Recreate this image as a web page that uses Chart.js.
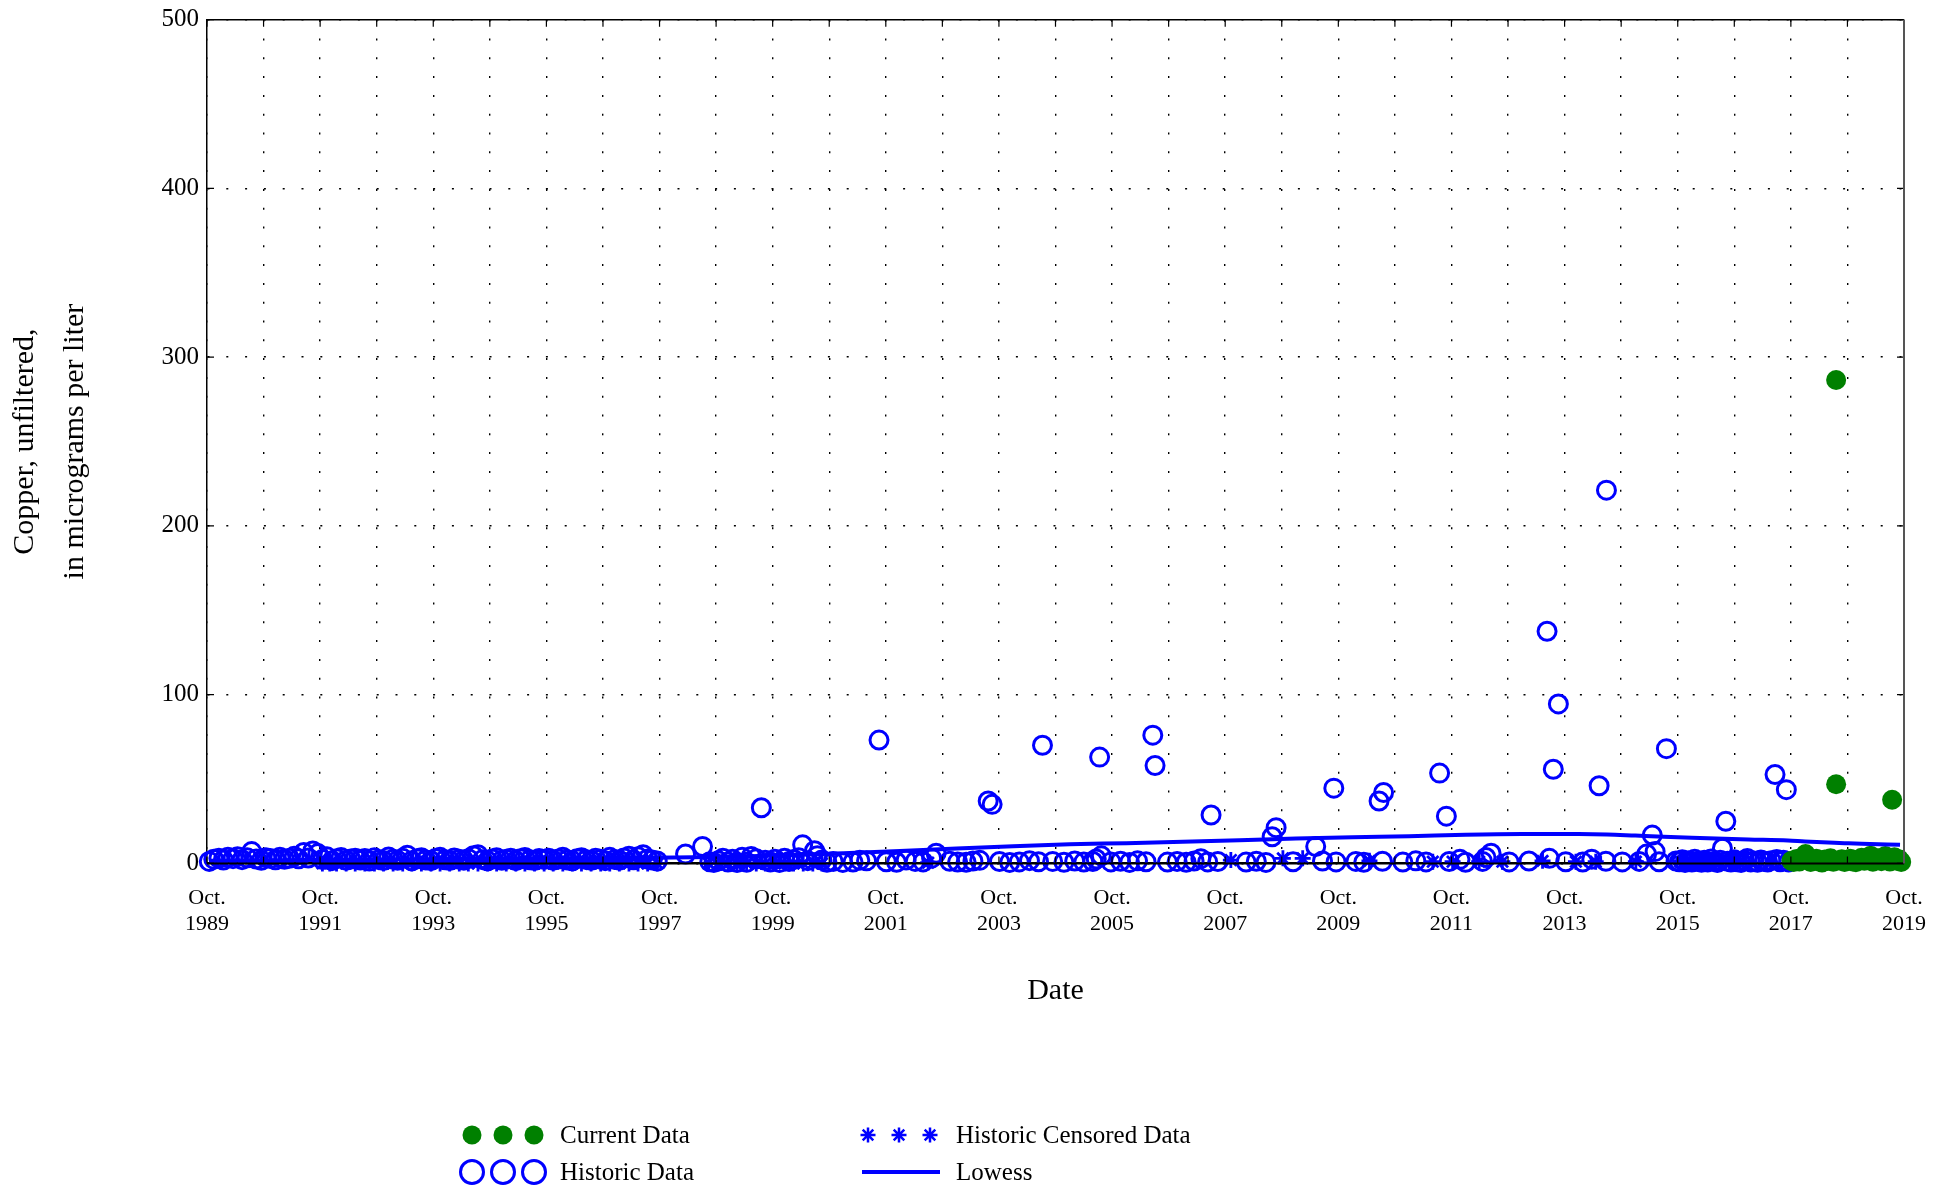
<!DOCTYPE html>
<html>
<head>
<meta charset="utf-8">
<title>Copper, unfiltered</title>
<script src="https://cdn.jsdelivr.net/npm/chart.js@4.4.1/dist/chart.umd.min.js"></script>
<style>
  html, body { margin: 0; padding: 0; background: #ffffff; }
  canvas { display: block; }
</style>
</head>
<body>
<canvas id="chart" width="1934" height="1188"></canvas>
<script>
// Axis ticks and labels
const yTicks = [0, 100, 200, 300, 400, 500];
const xTickYears = [1989, 1991, 1993, 1995, 1997, 1999, 2001, 2003, 2005, 2007, 2009, 2011, 2013, 2015, 2017, 2019];
const legendLabels = ['Current Data', 'Historic Data', 'Historic Censored Data', 'Lowess'];

// Samples as [decimal year, copper in micrograms per liter]
const historicData = [
  [1989.79, 1.2], [1989.87, 2.5], [1989.96, 3.1], [1990.04, 2.0], [1990.12, 3.6], [1990.21, 2.8],
  [1990.29, 4.0], [1990.37, 2.2], [1990.46, 3.3], [1990.54, 7.0], [1990.62, 2.6], [1990.71, 1.8],
  [1990.79, 3.4], [1990.87, 2.9], [1990.96, 2.1], [1991.04, 3.7], [1991.12, 2.4], [1991.21, 3.0],
  [1991.29, 4.2], [1991.37, 2.7], [1991.46, 6.5], [1991.54, 3.2], [1991.62, 7.4], [1991.71, 5.8],
  [1991.79, 2.3], [1991.87, 3.9], [1991.96, 1.6], [1992.04, 2.8], [1992.12, 3.5], [1992.21, 1.9],
  [1992.29, 2.6], [1992.37, 3.1], [1992.46, 2.0], [1992.54, 2.9], [1992.62, 1.4], [1992.71, 3.3],
  [1992.79, 2.2], [1992.87, 1.7], [1992.96, 3.8], [1993.04, 2.5], [1993.12, 1.8], [1993.21, 3.0],
  [1993.29, 4.9], [1993.37, 1.5], [1993.46, 2.7], [1993.54, 3.4], [1993.62, 2.0], [1993.71, 1.6],
  [1993.79, 2.9], [1993.87, 3.6], [1993.96, 2.1], [1994.04, 1.7], [1994.12, 3.2], [1994.21, 2.4],
  [1994.29, 1.9], [1994.37, 2.8], [1994.46, 4.6], [1994.54, 5.2], [1994.62, 2.2], [1994.71, 1.5],
  [1994.79, 2.6], [1994.87, 3.3], [1994.96, 1.8], [1995.04, 2.4], [1995.12, 3.0], [1995.21, 1.6],
  [1995.29, 2.7], [1995.37, 3.5], [1995.46, 2.1], [1995.54, 1.7], [1995.62, 2.9], [1995.71, 2.3],
  [1995.79, 3.1], [1995.87, 1.9], [1995.96, 2.6], [1996.04, 3.7], [1996.12, 2.0], [1996.21, 1.5],
  [1996.29, 2.8], [1996.37, 3.4], [1996.46, 2.2], [1996.54, 1.8], [1996.62, 3.0], [1996.71, 2.5],
  [1996.79, 1.6], [1996.87, 3.6], [1996.96, 2.3], [1997.04, 1.9], [1997.12, 3.2], [1997.21, 4.2],
  [1997.29, 2.1], [1997.37, 3.9], [1997.46, 5.1], [1997.54, 2.6], [1997.62, 2.0], [1997.71, 1.4],
  [1998.21, 5.6], [1998.51, 10.0],
  [1998.64, 1.0], [1998.71, 0.6], [1998.79, 1.5], [1998.87, 3.1], [1998.96, 0.8], [1999.04, 2.4],
  [1999.12, 0.5], [1999.21, 3.6], [1999.29, 0.7], [1999.37, 4.1], [1999.46, 2.7], [1999.55, 33.0],
  [1999.62, 1.8], [1999.71, 0.9], [1999.79, 2.5], [1999.87, 0.6], [1999.96, 3.0], [2000.04, 1.1],
  [2000.12, 2.3], [2000.21, 3.4], [2000.28, 11.0], [2000.37, 1.6], [2000.49, 7.5], [2000.54, 4.6],
  [2000.62, 2.0], [2000.71, 0.7],
  [2000.82, 1.2], [2000.99, 0.6], [2001.17, 0.8], [2001.29, 1.9], [2001.41, 1.5], [2001.63, 73.1],
  [2001.76, 1.0], [2001.94, 0.7], [2002.11, 2.0], [2002.27, 1.2], [2002.41, 0.9], [2002.56, 3.1],
  [2002.64, 6.0], [2002.88, 1.3], [2003.02, 0.8], [2003.17, 0.7], [2003.29, 1.4], [2003.41, 1.8],
  [2003.56, 37.0], [2003.63, 35.0], [2003.76, 1.1], [2003.94, 0.6], [2004.11, 0.9], [2004.29, 1.6],
  [2004.45, 1.0], [2004.52, 70.0], [2004.70, 1.2], [2004.90, 0.7], [2005.09, 1.4], [2005.25, 0.8],
  [2005.41, 1.1], [2005.47, 2.6], [2005.53, 63.0], [2005.56, 4.5], [2005.73, 0.9], [2005.90, 1.3],
  [2006.06, 0.6], [2006.20, 1.5], [2006.35, 1.0], [2006.47, 76.0], [2006.51, 58.0], [2006.73, 0.8],
  [2006.90, 1.2], [2007.06, 0.7], [2007.20, 1.4], [2007.32, 2.8], [2007.44, 0.9], [2007.50, 28.7],
  [2007.62, 1.1], [2008.12, 0.8], [2008.30, 1.3], [2008.47, 0.6], [2008.58, 15.8], [2008.65, 21.2],
  [2008.95, 1.0], [2009.35, 10.0], [2009.47, 1.4], [2009.67, 44.6], [2009.71, 0.9], [2010.06, 1.2],
  [2010.20, 0.7], [2010.47, 37.0], [2010.53, 1.3], [2010.55, 42.0], [2010.89, 0.8], [2011.12, 1.5],
  [2011.30, 0.9], [2011.54, 53.5], [2011.66, 28.0], [2011.71, 1.1], [2011.90, 2.4], [2012.00, 0.7],
  [2012.30, 1.2], [2012.36, 3.5], [2012.45, 6.0], [2012.77, 0.9], [2013.12, 1.4], [2013.44, 137.6],
  [2013.48, 3.0], [2013.55, 55.8], [2013.64, 94.5], [2013.77, 1.0], [2014.07, 0.8], [2014.23, 2.5],
  [2014.36, 46.0], [2014.48, 1.3], [2014.49, 221.2], [2014.77, 0.9], [2015.07, 1.2], [2015.20, 5.5],
  [2015.30, 16.8], [2015.35, 7.0], [2015.42, 1.0], [2015.55, 68.0], [2015.72, 1.4],
  [2015.78, 1.0], [2015.83, 2.1], [2015.88, 0.6], [2015.94, 1.5], [2016.00, 0.8], [2016.05, 2.4],
  [2016.11, 1.1], [2016.17, 0.7], [2016.22, 1.8], [2016.28, 0.9], [2016.34, 2.6], [2016.40, 1.2],
  [2016.45, 0.5], [2016.50, 1.9], [2016.54, 9.0], [2016.60, 25.0], [2016.63, 1.3], [2016.69, 0.8],
  [2016.75, 2.2], [2016.81, 1.0], [2016.87, 0.6], [2016.93, 1.7], [2016.98, 2.9], [2017.04, 0.9],
  [2017.10, 1.4], [2017.16, 0.7], [2017.22, 2.0], [2017.28, 1.1], [2017.34, 0.8], [2017.40, 1.6],
  [2017.47, 52.7], [2017.50, 2.3], [2017.56, 1.0], [2017.62, 1.8], [2017.67, 43.7], [2017.71, 0.9]
];

// Censored (below reporting level) samples
const censoredData = [
  [1991.79, 0], [1991.92, 0], [1992.04, 0], [1992.21, 0], [1992.37, 0], [1992.54, 0], [1992.71, 0],
  [1992.87, 0], [1993.04, 0], [1993.21, 0], [1993.37, 0], [1993.54, 0], [1993.71, 0], [1993.87, 0],
  [1994.04, 0], [1994.21, 0], [1994.37, 0], [1994.54, 0], [1994.71, 0], [1994.87, 0], [1995.04, 0],
  [1995.21, 0], [1995.37, 0], [1995.54, 0], [1995.71, 0], [1995.87, 0], [1996.04, 0], [1996.21, 0],
  [1996.37, 0], [1996.54, 0], [1996.71, 0], [1996.87, 0], [1997.04, 0], [1997.21, 0], [1997.37, 0],
  [1997.54, 0], [1997.71, 0],
  [1998.62, 0], [1998.79, 0], [1998.96, 0], [1999.12, 0], [1999.29, 0], [1999.46, 0], [1999.62, 0],
  [1999.79, 0], [1999.96, 0], [2000.12, 0], [2000.29, 0], [2000.46, 0], [2000.62, 0],
  [2002.50, 0.5], [2007.85, 2.0], [2008.77, 3.0], [2009.12, 3.0], [2010.30, 1.5], [2011.42, 1.0],
  [2011.77, 1.0], [2012.24, 1.0], [2012.65, 1.0], [2013.36, 1.5], [2013.95, 1.0], [2014.30, 1.0],
  [2015.01, 1.0],
  [2015.80, 1.0], [2015.86, 0.5], [2015.91, 1.5], [2015.97, 1.0], [2016.03, 0.5], [2016.08, 1.5],
  [2016.14, 1.0], [2016.19, 2.0], [2016.25, 0.5], [2016.31, 1.0], [2016.37, 1.5], [2016.42, 1.0],
  [2016.48, 0.5], [2016.66, 1.0], [2016.78, 1.5], [2016.90, 1.0]
];

// Current water-year samples
const currentData = [
  [2017.76, 1.5], [2017.80, 0.8], [2017.85, 2.6], [2017.90, 1.2], [2017.95, 3.4], [2018.01, 5.6],
  [2018.05, 2.1], [2018.10, 0.9], [2018.15, 1.8], [2018.20, 2.7], [2018.25, 1.1], [2018.30, 0.6],
  [2018.35, 2.3], [2018.40, 1.4], [2018.45, 3.0], [2018.50, 1.0], [2018.55, 286.5], [2018.55, 46.9],
  [2018.60, 1.7], [2018.65, 2.5], [2018.70, 0.8], [2018.75, 1.9], [2018.80, 2.8], [2018.85, 1.2],
  [2018.90, 0.7], [2018.95, 2.2], [2019.00, 3.3], [2019.05, 1.5], [2019.10, 2.4], [2019.16, 4.6],
  [2019.20, 1.0], [2019.25, 2.0], [2019.30, 3.1], [2019.35, 1.3], [2019.42, 4.4], [2019.46, 2.6],
  [2019.50, 1.1], [2019.54, 37.7], [2019.58, 3.6], [2019.62, 1.6], [2019.66, 2.5], [2019.70, 0.9]
];

// Lowess smooth
const lowessData = [
  [1989.79, 1.6], [1991.0, 1.9], [1992.0, 2.2], [1993.0, 2.4], [1994.0, 2.6], [1995.0, 2.8],
  [1996.0, 3.0], [1997.0, 3.2], [1998.0, 3.5], [1999.0, 4.0], [2000.0, 4.8], [2001.0, 6.0],
  [2002.0, 7.4], [2003.0, 8.8], [2004.0, 10.2], [2005.0, 11.3], [2006.0, 12.0], [2007.0, 12.8],
  [2008.0, 13.7], [2009.0, 14.7], [2010.0, 15.5], [2011.0, 16.1], [2012.0, 17.0], [2013.0, 17.4],
  [2014.0, 17.4], [2014.5, 17.2], [2015.0, 16.5], [2015.5, 15.8], [2016.0, 15.2], [2017.0, 14.2],
  [2017.7, 13.6], [2018.0, 13.0], [2018.7, 12.0], [2019.0, 11.6], [2019.68, 11.0]
];

const BLUE = '#0000ff';
const GREEN = '#008000';
const SERIF = '"Liberation Serif", "Times New Roman", serif';
const toPoints = arr => arr.map(([x, y]) => ({ x, y }));

// Box frame, inward tick marks and the two-column legend below the plot
const frameAndLegend = {
  id: 'frameAndLegend',
  afterDraw(chart) {
    const { ctx, chartArea: a, scales: { x, y } } = chart;
    ctx.save();
    ctx.strokeStyle = '#000';
    ctx.lineWidth = 1.2;
    ctx.beginPath();
    x.ticks.forEach(t => {
      const px = x.getPixelForValue(t.value);
      ctx.moveTo(px, a.bottom); ctx.lineTo(px, a.bottom - 7);
      ctx.moveTo(px, a.top); ctx.lineTo(px, a.top + 7);
    });
    y.ticks.forEach(t => {
      const py = y.getPixelForValue(t.value);
      ctx.moveTo(a.left, py); ctx.lineTo(a.left + 7, py);
      ctx.moveTo(a.right, py); ctx.lineTo(a.right - 7, py);
    });
    ctx.stroke();

    ctx.lineWidth = 1.5;
    ctx.beginPath();
    ctx.moveTo(a.left, a.top); ctx.lineTo(a.right, a.top);
    ctx.stroke();
    ctx.lineWidth = 2;
    ctx.beginPath();
    ctx.moveTo(a.left, a.bottom); ctx.lineTo(a.right, a.bottom);
    ctx.stroke();
    ctx.strokeStyle = '#555';
    ctx.beginPath();
    ctx.moveTo(a.right, a.top); ctx.lineTo(a.right, a.bottom);
    ctx.stroke();

    // legend
    const row1 = 1135, row2 = 1172;
    const trio = [472, 503, 534];
    const draw = Chart.helpers.drawPoint;
    ctx.fillStyle = GREEN;
    trio.forEach(px => draw(ctx, { pointStyle: 'circle', radius: 9.5, borderWidth: 0 }, px, row1));
    ctx.strokeStyle = BLUE;
    ctx.lineWidth = 3;
    trio.forEach(px => { ctx.beginPath(); ctx.arc(px, row2, 11.5, 0, Math.PI * 2); ctx.stroke(); });
    ctx.lineWidth = 2.5;
    [868, 899, 930].forEach(px => draw(ctx, { pointStyle: 'star', radius: 7.5, borderWidth: 2.5 }, px, row1));
    ctx.lineWidth = 4;
    ctx.beginPath();
    ctx.moveTo(862, row2); ctx.lineTo(940, row2);
    ctx.stroke();

    ctx.fillStyle = '#000';
    ctx.font = '25px ' + SERIF;
    ctx.textAlign = 'left';
    ctx.textBaseline = 'middle';
    ctx.fillText(legendLabels[0], 560, row1 + 1);
    ctx.fillText(legendLabels[1], 560, row2 + 1);
    ctx.fillText(legendLabels[2], 956, row1 + 1);
    ctx.fillText(legendLabels[3], 956, row2 + 1);
    ctx.restore();
  }
};

new Chart(document.getElementById('chart'), {
  type: 'scatter',
  data: {
    datasets: [
      {
        label: legendLabels[3], type: 'line', showLine: true, data: toPoints(lowessData),
        borderColor: BLUE, borderWidth: 4, pointRadius: 0, fill: false,
        cubicInterpolationMode: 'monotone', clip: false
      },
      {
        label: legendLabels[0], data: toPoints(currentData), pointStyle: 'circle', pointRadius: 10,
        pointBackgroundColor: GREEN, pointBorderColor: GREEN, pointBorderWidth: 0, clip: false
      },
      {
        label: legendLabels[1], data: toPoints(historicData), pointStyle: 'circle', pointRadius: 9,
        pointBackgroundColor: 'rgba(0,0,0,0)', pointBorderColor: BLUE, pointBorderWidth: 3, clip: false
      },
      {
        label: legendLabels[2], data: toPoints(censoredData), pointStyle: 'star', pointRadius: 8,
        pointBorderColor: BLUE, pointBorderWidth: 2.8, clip: false
      }
    ]
  },
  options: {
    responsive: false,
    animation: false,
    devicePixelRatio: 1,
    events: [],
    layout: { padding: { left: 0, right: 30, top: 19.7, bottom: 179.3 } },
    plugins: { legend: { display: false }, tooltip: { enabled: false } },
    scales: {
      x: {
        type: 'linear', min: 1989.75, max: 2019.75,
        afterBuildTicks: s => {
          const t = [];
          for (let k = 0; k <= 30; k++) t.push({ value: 1989.75 + k });
          s.ticks = t;
        },
        afterFit: s => { s.height = 145.3; s.paddingLeft = 0; s.paddingRight = 0; },
        grid: { color: '#000', lineWidth: 1.4, drawTicks: false },
        border: { display: true, color: '#000', width: 2, dash: [2, 16.8] },
        ticks: {
          autoSkip: false, maxRotation: 0, minRotation: 0, padding: 21.6, color: '#000',
          font: { family: SERIF, size: 22, lineHeight: 1.18 },
          callback: v => {
            const yr = Math.round(v - 0.75);
            return xTickYears.includes(yr) ? ['Oct.', String(yr)] : '';
          }
        },
        title: {
          display: true, text: 'Date', color: '#000', padding: 0,
          font: { family: SERIF, size: 30, lineHeight: 1.2 }
        }
      },
      y: {
        type: 'linear', min: 0, max: 500,
        afterBuildTicks: s => { s.ticks = yTicks.map(v => ({ value: v })); },
        afterFit: s => { s.width = 207; s.paddingTop = 0; s.paddingBottom = 0; },
        grid: { color: '#000', lineWidth: 1.4, drawTicks: false },
        border: { display: true, color: '#000', width: 1.5, dash: [2, 16.8] },
        ticks: {
          padding: 8, color: '#000', font: { family: SERIF, size: 25 },
          callback: v => String(v)
        },
        title: {
          display: true, text: ['Copper, unfiltered,', 'in micrograms per liter'], color: '#000', padding: 0,
          font: { family: SERIF, size: 30, lineHeight: 1.667 }
        }
      }
    }
  },
  plugins: [frameAndLegend]
});
</script>
</body>
</html>
